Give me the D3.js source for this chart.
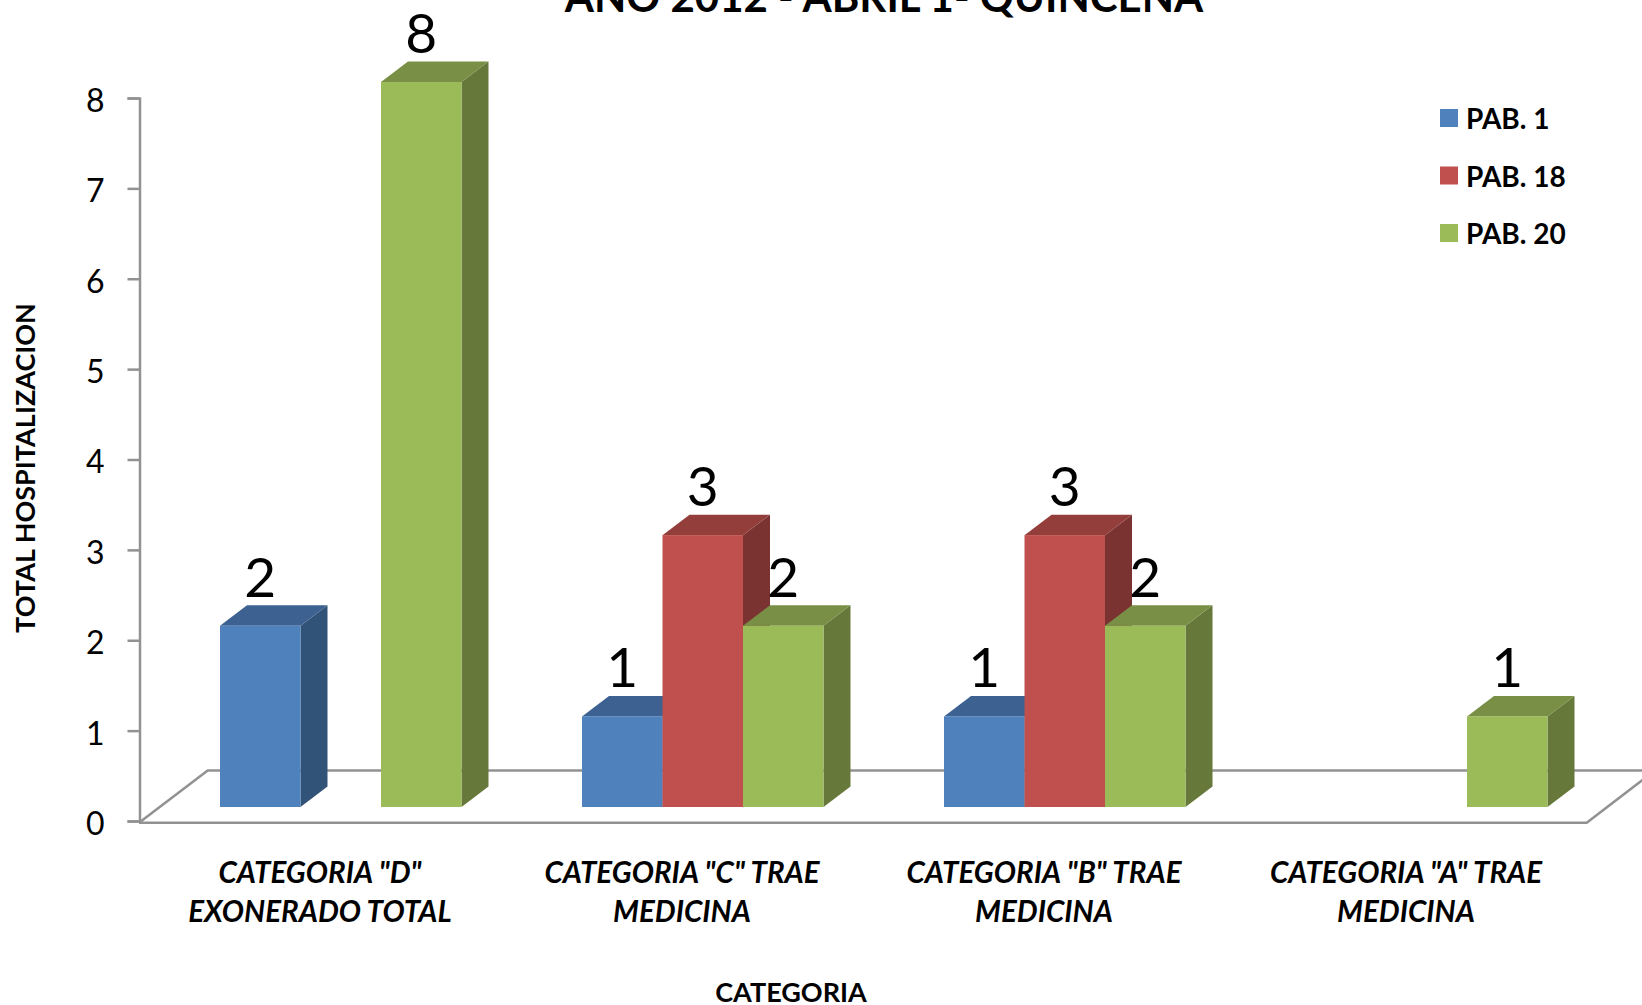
<!DOCTYPE html>
<html><head><meta charset="utf-8">
<script src="https://cdn.jsdelivr.net/npm/d3@7/dist/d3.min.js"></script>
<style>html,body{margin:0;background:#fff;overflow:hidden}svg{display:block}text{font-family:Lato,"Open Sans",sans-serif;fill:#000}</style>
</head><body><svg id="c" width="1642" height="1005"></svg>
<script>
const categories = [['CATEGORIA "D"','EXONERADO TOTAL'],['CATEGORIA "C" TRAE','MEDICINA'],['CATEGORIA "B" TRAE','MEDICINA'],['CATEGORIA "A" TRAE','MEDICINA']];
const categoryKeys = ['D','C','B','A'];
const seriesNames = ['PAB. 1','PAB. 18','PAB. 20'];
const pab1 = [2,1,1,0];
const pab18 = [0,3,3,0];
const pab20 = [8,2,2,1];
const yTicks = [0,1,2,3,4,5,6,7,8];
const front = ['#4f81bd','#c0504d','#9bbb59'];
const topC = ['#3d6291','#933e3b','#788f45'];
const side = ['#325378','#7a3331','#66783a'];

const svg = d3.select('#c');
const x0 = d3.scaleBand().domain(categoryKeys).range([139,1587]);
const x1 = d3.scaleBand().domain(seriesNames).range([81,322.5]);
const y = d3.scaleLinear().domain([0,8]).range([821,98]);
const yBar = d3.scaleLinear().domain([0,8]).range([807,82]);
const dx = 27, dy = 20.5;
const grey = '#929292';

// floor
const floorG = svg.append('g').attr('fill','none').attr('stroke',grey).attr('stroke-width',2.5);
floorG.append('path').attr('d','M139,822.7L207.7,770.5L1700,770.5');
floorG.append('path').attr('d','M139,822.7L1586.7,822.7L1655,770.5');

// y axis
const axis = d3.axisLeft(y).tickValues(yTicks).tickSize(12).tickPadding(23);
const ag = svg.append('g').attr('transform','translate(139.5,0)').call(axis);
ag.selectAll('line,path').attr('stroke',grey).attr('stroke-width',2.5);
ag.selectAll('text').attr('font-size',32).attr('dy','0.42em').style('font-family','Lato');

// bars, drawn left to right so each bar hides the side of the one before it
const rows = [pab1,pab18,pab20];
const bars = [];
rows.forEach((vals,s)=>vals.forEach((v,c)=>{ if(v>0) bars.push({v,s,c}); }));
bars.sort((a,b)=>a.c-b.c||a.s-b.s);
const g = svg.append('g');
bars.forEach(b=>{
  const L = x0(categoryKeys[b.c])+x1(seriesNames[b.s]);
  const w = x1.bandwidth(), R = L+w, T = yBar(b.v), B = yBar(0);
  g.append('path').attr('fill',side[b.s]).attr('d',`M${R},${T}L${R+dx},${T-dy}L${R+dx},${B-dy}L${R},${B}Z`);
  g.append('path').attr('fill',topC[b.s]).attr('d',`M${L},${T}L${L+dx},${T-dy}L${R+dx},${T-dy}L${R},${T}Z`);
  g.append('rect').attr('x',L).attr('y',T).attr('width',w).attr('height',B-T).attr('fill',front[b.s]);
});
bars.forEach(b=>{
  const L = x0(categoryKeys[b.c])+x1(seriesNames[b.s]);
  svg.append('text').attr('x',L+x1.bandwidth()/2).attr('y',yBar(b.v)-29)
    .attr('text-anchor','middle').attr('font-size',55).text(b.v);
});

// category labels
categories.forEach((lines,i)=>{
  const cx = x0(categoryKeys[i])+x0.bandwidth()/2;
  lines.forEach((t,j)=>svg.append('text').attr('x',cx).attr('y',883+j*39).attr('text-anchor','middle')
    .attr('font-size',29.5).attr('font-weight',700).attr('font-style','italic').text(t));
});

// titles
svg.append('text').attr('x',884).attr('y',12).attr('text-anchor','middle').attr('font-size',42).attr('font-weight',700).text('AÑO 2012 - ABRIL 1- QUINCENA');
svg.append('text').attr('x',791).attr('y',1002).attr('text-anchor','middle').attr('font-size',27).attr('font-weight',700).text('CATEGORIA');
svg.append('text').attr('transform','translate(35,468) rotate(-90)').attr('text-anchor','middle').attr('font-size',27).attr('font-weight',700).text('TOTAL HOSPITALIZACION');

// legend
const ly = d3.scalePoint().domain(seriesNames).range([118,233]);
seriesNames.forEach((n,i)=>{
  svg.append('rect').attr('x',1440).attr('y',ly(n)-9).attr('width',18).attr('height',18).attr('fill',front[i]);
  svg.append('text').attr('x',1466).attr('y',ly(n)+11).attr('font-size',28).attr('font-weight',700).text(n);
});
</script></body></html>
